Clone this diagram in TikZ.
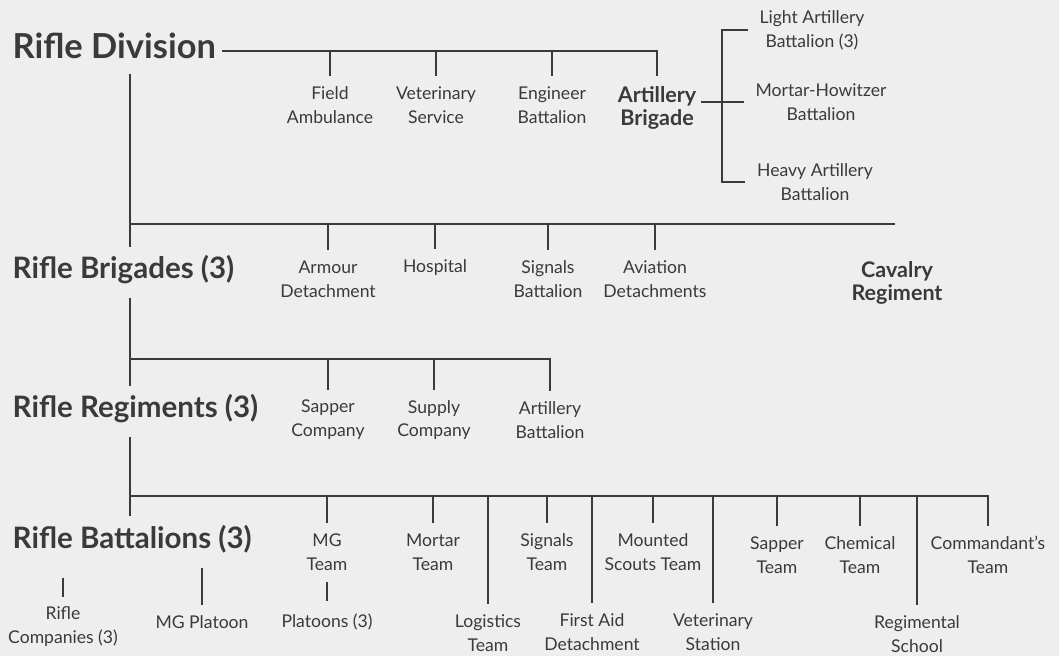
\documentclass[tikz,border=0pt]{standalone}
\usepackage{fontspec}
\setmainfont{Lato}
\usepackage{tikz}

\definecolor{ink}{HTML}{3A3A3A}
\definecolor{paper}{HTML}{EEEEEE}
\tikzset{
  unit/.style={align=center, inner sep=0pt, text=ink, font=\fontsize{12.5}{17}\selectfont},
  arm/.style={align=center, inner sep=0pt, text=ink, font=\bfseries\fontsize{15.3}{16}\selectfont},
  echelon/.style={anchor=west, inner sep=0pt, text=ink, font=\bfseries\fontsize{21}{25}\selectfont},
  tick/.style={shorten >=7pt},
}

\begin{document}
\begin{tikzpicture}[x=0.025cm, y=-0.025cm, draw=ink, line width=1pt]
    \fill[paper] (0,0) rectangle (1059,656);
    % echelons down the left
    \node[echelon, font=\bfseries\fontsize{24.5}{28}\selectfont] (div) at (12,46) {Rifle Division};
    \node[echelon] (brig) at (12,270) {Rifle Brigades (3)};
    \node[echelon] (regt) at (12,409) {Rifle Regiments (3)};
    \node[echelon] (bn) at (12,539) {Rifle Battalions (3)};
    \coordinate (sx) at (130,0);
    \coordinate (bus1) at (657,51);
    \coordinate (bus2) at (895,224);
    \coordinate (bus3) at (0,359);
    \coordinate (bus4) at (0,496);
    \coordinate (brk) at (722,0);

    % division troops
    \node[unit] (fa) at (330,105) {Field\\Ambulance};
    \node[unit] (vs) at (436,105) {Veterinary\\Service};
    \node[unit] (eb) at (552,105) {Engineer\\Battalion};
    \node[arm] (ab) at (657,108) {Artillery\\Brigade};
    \node[unit] (la) at (812,30) {Light Artillery\\Battalion (3)};
    \node[unit] (mh) at (821,102) {Mortar-Howitzer\\Battalion};
    \node[unit] (ha) at (815,182) {Heavy Artillery\\Battalion};

    \draw[shorten <=4pt, tick] (div.east |- bus1) -| (ab.north);
    \foreach \n in {fa,vs,eb}
        \draw[tick] (\n |- bus1) -- (\n.north);
    \draw[shorten <=3pt, shorten >=8pt] (ab.east |- mh.west) -- (mh.west);
    \draw[shorten <=8pt, shorten >=8pt] (la.west) -| (brk |- mh.west) |- (ha.west);

    % spine
    \draw[shorten <=10pt, shorten >=6pt] (div.south -| sx) -- (brig.north -| sx);
    \draw[shorten <=9pt, shorten >=6pt] (brig.south -| sx) -- (regt.north -| sx);
    \draw[shorten <=9pt, shorten >=6pt] (regt.south -| sx) -- (bn.north -| sx);

    % brigade level
    \node[unit] (ad) at (328,279) {Armour\\Detachment};
    \node[unit] (hos) at (435,268) {Hospital};
    \node[unit] (sb) at (548,279) {Signals\\Battalion};
    \node[unit] (avd) at (655,279) {Aviation\\Detachments};
    \node[arm] (cav) at (897,283) {Cavalry\\Regiment};
    \draw (sx |- bus2) -- (bus2);
    \foreach \n in {ad,hos,sb,avd}
        \draw[tick] (\n |- bus2) -- (\n.north);

    % regiment level
    \node[unit] (sc) at (328,420) {Sapper\\Company};
    \node[unit] (suc) at (434,420) {Supply\\Company};
    \node[unit] (abn) at (550,420) {Artillery\\Battalion};
    \draw[tick] (sx |- bus3) -| (abn.north);
    \foreach \n in {sc,suc}
        \draw[tick] (\n |- bus3) -- (\n.north);

    % battalion level
    \node[unit] (mgt) at (327,552) {MG\\Team};
    \node[unit] (mtt) at (433,552) {Mortar\\Team};
    \node[unit] (sgt) at (547,552) {Signals\\Team};
    \node[unit] (mst) at (653,552) {Mounted\\Scouts Team};
    \node[unit] (spt) at (777,555) {Sapper\\Team};
    \node[unit] (cht) at (860,555) {Chemical\\Team};
    \node[unit] (cdt) at (988,555) {Commandant's\\Team};
    \node[unit] (lgt) at (488,633) {Logistics\\Team};
    \node[unit] (fad) at (592,632) {First Aid\\Detachment};
    \node[unit] (vst) at (713,632) {Veterinary\\Station};
    \node[unit] (rsc) at (917,634) {Regimental\\School};
    \node[unit] (rco) at (63,627) {Rifle\\Companies (3)};
    \node[unit] (mgp) at (202,622) {MG Platoon};
    \node[unit] (plt) at (327,622) {Platoons (3)};

    \draw[tick] (sx |- bus4) -| (cdt.north);
    \foreach \n in {mgt,mtt,sgt,mst,spt,cht,lgt,fad,vst,rsc}
        \draw[tick] (\n |- bus4) -- (\n.north);
    \draw[shorten <=8pt, shorten >=9pt] (mgt) -- (plt);
    \draw[shorten <=17pt, tick] (rco.north |- bn.south) -- (rco.north);
    \draw[shorten <=10pt, tick] (mgp.north |- bn.south) -- (mgp.north);
\end{tikzpicture}
\end{document}
